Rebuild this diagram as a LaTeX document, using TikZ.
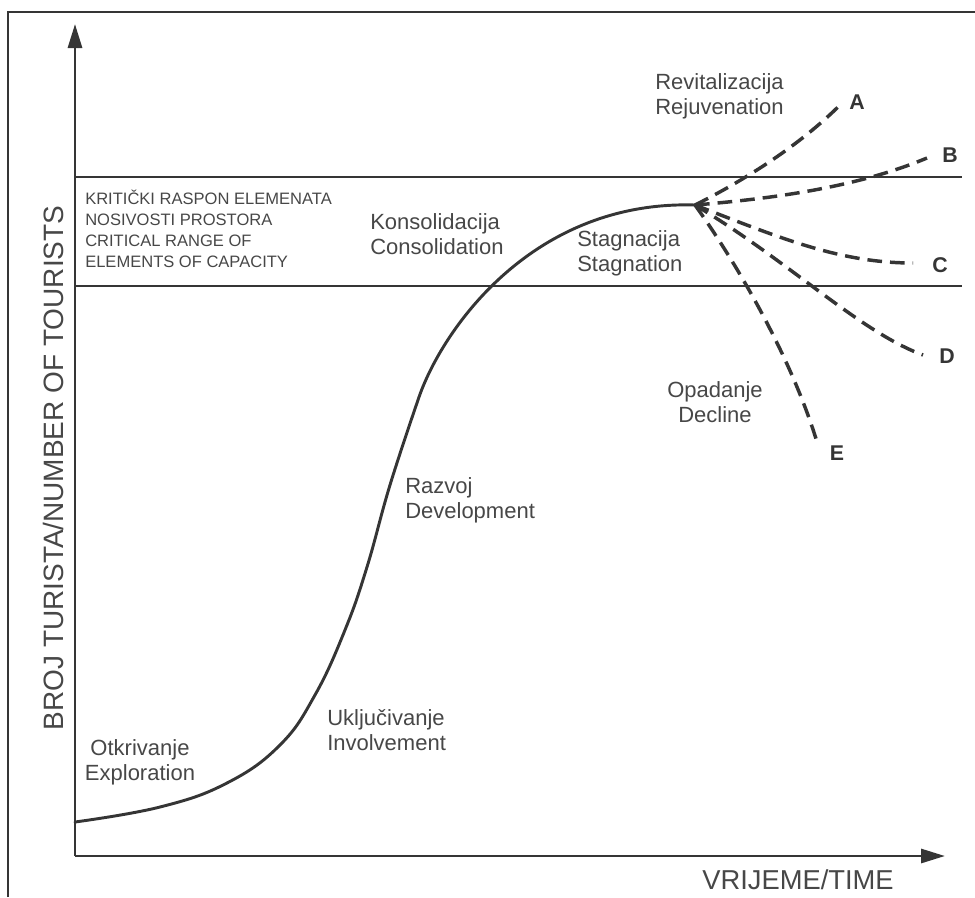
\documentclass[tikz,border=0pt]{standalone}
\usepackage{fontspec}
\setmainfont{Liberation Sans}
\usetikzlibrary{positioning, calc, arrows.meta}
\definecolor{ink}{HTML}{353535}
\definecolor{txt}{HTML}{474747}

\begin{document}
\begin{tikzpicture}[x=0.75pt,y=-0.75pt,
    axis/.style={draw=ink, line width=2.2pt, -{Triangle[length=18pt,width=10.5pt]}},
    limit/.style={draw=ink, line width=2pt},
    branch/.style={draw=ink, line width=2.6pt, dash pattern=on 11pt off 6pt},
    stage/.style={text=txt, inner sep=0pt, font=\fontsize{16.5}{18.75}\selectfont},
    caps/.style={text=txt, inner sep=0pt, font=\fontsize{12.4}{15.75}\selectfont, align=left},
    tag/.style={text=ink, inner sep=0pt, font=\fontsize{16}{18}\selectfont\bfseries}]
\useasboundingbox (0,0) rectangle (975,897);
% frame
\draw[draw=ink, line width=1.5pt] (8,897) -- (8,12) -- (975,12);

% axes
\coordinate (o) at (75,856);
\coordinate (ytop) at (75,24);
\coordinate (xend) at (945,856);
\draw[axis] (o) -- (ytop);
\draw[axis] (o) -- (xend);
\node[text=txt, inner sep=0pt, rotate=90, font=\fontsize{21}{24}\selectfont] (ylab) at (53,468) {BROJ TURISTA/NUMBER OF TOURISTS};
\node[text=txt, inner sep=0pt, font=\fontsize{20.5}{24}\selectfont] (xlab) at (798,880) {VRIJEME/TIME};

% capacity range
\coordinate (u1) at (75,177);  \coordinate (u2) at (962,177);
\coordinate (l1) at (75,286);  \coordinate (l2) at (962,286);
\draw[limit] (u1) -- (u2);
\draw[limit] (l1) -- (l2);
\node[caps, anchor=west] (range) at (85,229) {KRITIČKI RASPON ELEMENATA\\NOSIVOSTI PROSTORA\\CRITICAL RANGE OF\\ELEMENTS OF CAPACITY};

% life cycle curve
\coordinate (peak) at (695,205);
\draw[ink, line width=2.2pt, line cap=round] plot[smooth, tension=0.7] coordinates {(75,822) (160,807) (227,783) (280,745) (315,695) (345,630) (367,567) (390,485) (418,400)}
    .. controls (440,333) and (530,200) .. (peak);

% scenarios
\coordinate (endA) at (840,105);
\coordinate (endB) at (927,158);
\coordinate (endC) at (913,263);
\coordinate (endD) at (923,355);
\coordinate (endE) at (817,442);
\draw[branch] (peak) .. controls (745,180) and (800,145) .. (endA);
\draw[branch] (peak) .. controls (780,198) and (860,186) .. (endB);
\draw[branch] (peak) .. controls (780,238) and (840,263) .. (endC);
\draw[branch] (peak) .. controls (790,262) and (860,332) .. (endD);
\draw[branch] (peak) .. controls (740,268) and (792,360) .. (endE);
\node[tag] (A) at (857,102) {A};
\node[tag] (B) at (950,155) {B};
\node[tag] (C) at (940,265) {C};
\node[tag] (D) at (947,356) {D};
\node[tag] (E) at (837,453) {E};

% stages
\node[stage, align=center] (expl) at (140,762) {Otkrivanje\\Exploration};
\node[stage, align=left, anchor=west] (invo) at (327,730) {Uključivanje\\Involvement};
\node[stage, align=left, anchor=west] (devel) at (405,500) {Razvoj\\Development};
\node[stage, align=left, anchor=west] (cons) at (370,234) {Konsolidacija\\Consolidation};
\node[stage, align=left, anchor=west] (stag) at (577,253) {Stagnacija\\Stagnation};
\node[stage, align=left, anchor=west] (rejuv) at (655,96) {Revitalizacija\\Rejuvenation};
\node[stage, align=center] (decl) at (715,402) {Opadanje\\Decline};
\end{tikzpicture}
\end{document}
